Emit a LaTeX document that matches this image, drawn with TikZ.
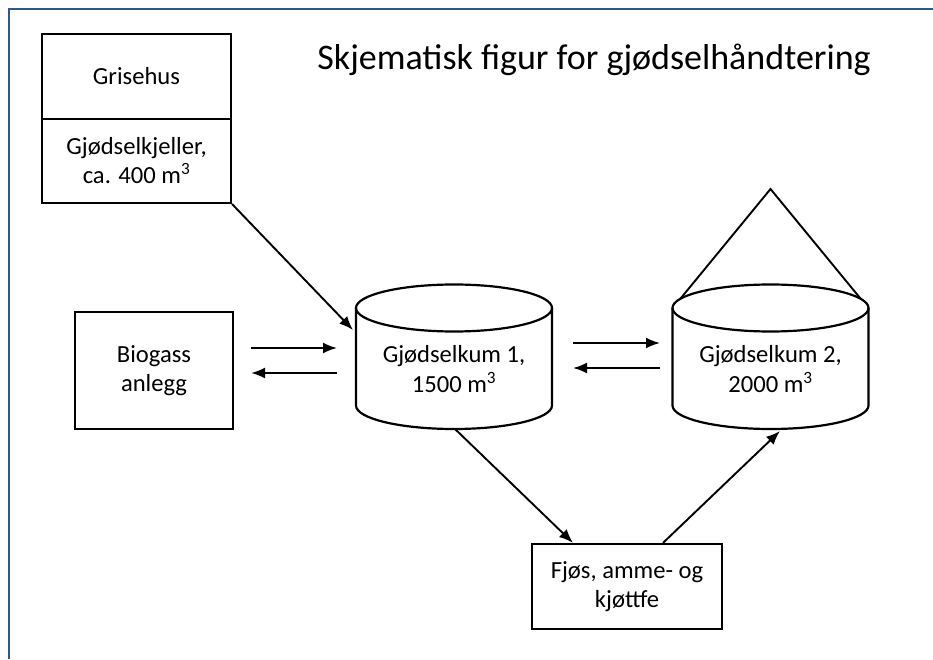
\documentclass[tikz,border=0pt]{standalone}
\usepackage{fontspec}
\setmainfont{Carlito}
\usepackage{xcolor}
\usepackage{tikz}
\usetikzlibrary{calc}
\usetikzlibrary{arrows.meta}
\usetikzlibrary{positioning}
\definecolor{rammeblaa}{HTML}{2F5597}
\tikzset{>={Latex[length=14pt,width=11pt]}}
\tikzstyle{box} = [rectangle, draw=black, line width=2.2pt, align=center, font=\fontsize{24.6pt}{29pt}\selectfont]
\tikzstyle{tank} = [rectangle, align=center, font=\fontsize{24.6pt}{30pt}\selectfont]
\tikzstyle{tankline} = [draw=black, line width=2.2pt]
\tikzstyle{pil} = [->, draw=black, line width=1.9pt]

\begin{document}
\begin{tikzpicture}[x=1pt, y=1pt]
\useasboundingbox (0,0) rectangle (933,659);
\draw [rammeblaa, line width=2.4pt] (8.8,0) -- (8.8,649.8) -- (933,649.8);

\node [anchor=base, font=\fontsize{36pt}{43pt}\selectfont] (tittel) at (594,589) {Skjematisk figur for gjødselhåndtering};

\node [box, minimum width=189pt, minimum height=85pt] (grisehus) at (136.5,582.5) {Grisehus};
\node [box, minimum width=189pt, minimum height=84pt] (kjeller) at (136.5,498) {Gjødselkjeller,\\ca. 400 m\textsuperscript{3}};
\node [box, minimum width=158pt, minimum height=117pt] (biogass) at (154,288.5) {Biogass\\anlegg};
\node [box, minimum width=190pt, minimum height=85pt] (fjos) at (627,72.5) {Fjøs, amme- og\\kjøttfe};

% gjødselkummer
\node [tank] (kum1) at (454,290) {Gjødselkum 1,\\1500 m\textsuperscript{3}};
\node [tank] (kum2) at (770.5,290) {Gjødselkum 2,\\2000 m\textsuperscript{3}};
\coordinate (kum1top) at ($(kum1)+(0,61)$);
\coordinate (kum1bunn) at ($(kum1)+(0,-36.5)$);
\coordinate (kum2top) at ($(kum2)+(0,61)$);
\coordinate (kum2bunn) at ($(kum2)+(0,-36.5)$);
\draw [tankline] ($(kum1top)+(-98,0)$) -- ($(kum1bunn)+(-98,0)$) arc [start angle=180, end angle=360, x radius=98pt, y radius=23.5pt] -- ($(kum1top)+(98,0)$);
\draw [tankline] (kum1top) ellipse [x radius=98pt, y radius=23.5pt];
\draw [tankline] ($(kum2top)+(-98,0)$) -- ($(kum2bunn)+(-98,0)$) arc [start angle=180, end angle=360, x radius=98pt, y radius=23.5pt] -- ($(kum2top)+(98,0)$);
\draw [tankline] (kum2top) ellipse [x radius=98pt, y radius=23.5pt];
% tak
\coordinate (topp) at ($(kum2top)+(0,119)$);
\draw [tankline, line width=1.9pt] ($(kum2top)+(157:98pt and 23.5pt)$) -- (topp) -- ($(kum2top)+(23:98pt and 23.5pt)$);

\draw [pil] (kjeller.south east) -- ($(kum1top)+(-101,-22)$);
\draw [pil] ($(biogass.east)+(17,22.5)$) -- ($(kum1)+(-117,21)$);
\draw [pil] ($(kum1)+(-117,-4)$) -- ($(biogass.east)+(17,-2.5)$);
\draw [pil] ($(kum1)+(119,26)$) -- ($(kum2)+(-110.5,26)$);
\draw [pil] ($(kum2)+(-110.5,1)$) -- ($(kum1)+(119,1)$);
\draw [pil] ($(kum1)+(1,-60)$) -- ($(fjos.north)+(-54,0)$);
\draw [pil] ($(fjos.north)+(36,0)$) -- ($(kum2)+(9.5,-62)$);
\end{tikzpicture}
\end{document}
